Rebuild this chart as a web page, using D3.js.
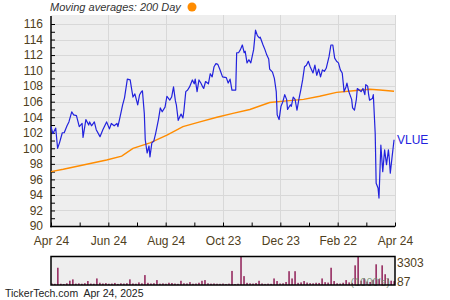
<!DOCTYPE html>
<html>
<head>
<meta charset="utf-8">
<script src="https://cdn.jsdelivr.net/npm/d3@7"></script>
<style>
	body { margin: 0; background: #fff; }
	svg { display: block; font-family: "Liberation Sans", Arial, sans-serif; }
</style>
</head>
<body>
<svg id="chart"></svg>
<script>
// days since Apr 24 2024, closing price
const priceDays = [0, 2, 5, 7, 9, 12, 14, 17, 19, 22, 24, 27, 30, 33, 34, 37, 40, 41, 43, 46,
	48, 52, 55, 59, 62, 64, 67, 70, 71, 73, 76, 78, 81, 84, 86, 87, 89, 92, 94, 96,
	97, 99, 100, 102, 104, 105, 107, 109, 111, 114, 116, 118, 121, 123, 126, 128, 130, 132, 133, 135,
	138, 140, 141, 143, 145, 147, 150, 152, 153, 155, 157, 159, 161, 162, 164, 167, 169, 171, 173, 175,
	177, 179, 182, 186, 188, 190, 192, 196, 197, 199, 201, 203, 205, 206, 208, 210, 212, 215, 217, 219,
	221, 222, 225, 227, 229, 231, 232, 235, 237, 239, 240, 242, 244, 246, 248, 250, 251, 254, 255, 257,
	259, 261, 263, 265, 267, 269, 271, 273, 275, 278, 280, 282, 284, 286, 288, 290, 292, 295, 297, 299,
	301, 303, 305, 307, 309, 311, 313, 314, 316, 319, 320, 322, 324, 325, 327, 329, 331, 333, 334, 336,
	337, 338, 341, 342, 344, 345, 347, 348, 350, 352, 354, 356, 358, 359, 360, 362, 364];
const priceVals = [102.8, 101.9, 102.6, 100.0, 100.7, 102.0, 102.0, 102.9, 103.4, 104.7, 104.3, 104.2, 102.8, 103.2, 101.4, 103.7, 103.0, 103.4, 102.9, 103.4,
	102.4, 101.5, 102.4, 103.4, 102.5, 103.2, 102.9, 103.2, 102.8, 103.9, 105.6, 106.5, 108.9, 108.8, 107.3, 106.6, 107.0, 105.6, 106.9, 107.3,
	107.4, 104.5, 101.1, 99.4, 100.3, 98.9, 100.7, 100.9, 101.9, 103.7, 105.2, 104.7, 105.3, 106.7, 106.2, 106.6, 107.9, 106.1, 105.6, 103.6,
	104.4, 103.9, 104.8, 107.3, 107.5, 107.9, 108.8, 108.3, 108.9, 107.3, 108.8, 108.4, 107.9, 107.7, 108.6, 108.3, 109.6, 109.2, 110.5, 110.9,
	110.8, 110.2, 109.2, 109.1, 108.4, 108.9, 107.5, 107.5, 112.3, 112.3, 112.7, 113.3, 112.3, 112.5, 111.0, 111.4, 111.0, 112.7, 115.2, 114.5,
	114.2, 114.3, 113.3, 112.7, 112.0, 111.5, 110.2, 109.8, 109.0, 107.3, 104.3, 103.7, 105.4, 106.0, 106.9, 106.3, 105.0, 105.6, 105.4, 106.6,
	106.3, 104.9, 106.3, 107.5, 108.8, 110.5, 110.7, 111.2, 110.5, 109.7, 110.7, 109.4, 110.2, 109.2, 110.1, 109.9, 110.3, 111.8, 113.3, 113.3,
	111.6, 111.2, 111.0, 110.1, 109.7, 107.3, 107.9, 108.4, 107.3, 106.3, 105.2, 104.9, 106.3, 107.7, 107.5, 107.3, 107.7, 106.9, 108.2, 108.0,
	106.9, 106.2, 106.4, 106.9, 101.9, 95.5, 94.9, 93.6, 100.4, 97.0, 99.8, 97.9, 99.8, 98.6, 96.8, 99.0, 101.1];

// 200 day moving average
const maDays = [0, 13, 59, 75, 87, 105, 123, 140, 158, 176, 193, 211, 232, 250, 268, 285, 303, 321, 338, 349, 364];
const maVals = [97.0, 97.3, 98.5, 99.0, 100.0, 100.7, 101.7, 102.8, 103.4, 104.0, 104.5, 105.0, 105.9, 106.1, 106.3, 106.7, 107.2, 107.4, 107.6, 107.5, 107.35];

// volume in 1000's
const volumeVals = [180, 140, 2000, 150, 120, 200, 500, 650, 160, 190, 150, 210, 460, 170, 150, 760, 260, 180, 220, 150,
	170, 240, 130, 200, 170, 210, 650, 180, 150, 300, 200, 1150, 250, 180, 210, 570, 160, 190, 150, 260,
	230, 170, 140, 490, 200, 180, 330, 150, 170, 260, 490, 570, 200, 160, 180, 150, 140, 170, 120, 160,
	1630, 110, 150, 3303, 1030, 250, 200, 170, 230, 490, 180, 130, 160, 140, 760, 460, 180, 200, 350, 1600,
	760, 1600, 250, 300, 460, 280, 220, 200, 260, 240, 760, 330, 280, 2000, 460, 200, 170, 260, 570, 300,
	250, 2280, 3303, 500, 760, 400, 350, 600, 2400, 700, 2280, 1250, 760, 500, 450];

const monthLabels = ["Apr 24", "Jun 24", "Aug 24", "Oct 23", "Dec 23", "Feb 22", "Apr 24"];
const priceLabels = [90, 92, 94, 96, 98, 100, 102, 104, 106, 108, 110, 112, 114, 116];
const volumeLabels = [87, 3303];
const symbol = "VLUE";

class TickerChart {
	constructor(selector, width = 450, height = 300) {
		this.width = width;
		this.height = height;
		this.svg = d3.select(selector).attr("width", width).attr("height", height);
		this.left = 51;
		this.right = 395;
		this.top = 15;
		this.bottom = 226.5;
		this.textColor = "#4f4020";
		this.x = d3.scaleLinear().domain([0, 365]).range([this.left, this.right]);
		this.y = d3.scaleLinear().domain([90, 116]).range([226, 24]);
	}

	drawPricePanel() {
		const svg = this.svg;
		svg.append("rect")
			.attr("x", this.left)
			.attr("y", this.top)
			.attr("width", this.right - this.left)
			.attr("height", this.bottom - this.top)
			.attr("fill", "#eeeeee");

		// horizontal grid
		svg.append("g")
			.selectAll("line")
			.data(priceLabels)
			.join("line")
			.attr("x1", this.left)
			.attr("x2", this.right)
			.attr("y1", (d) => Math.round(this.y(d)) + 0.5)
			.attr("y2", (d) => Math.round(this.y(d)) + 0.5)
			.attr("stroke", "#d8d8d8")
			.attr("stroke-width", 1);

		// vertical grid every two months
		const monthTicks = d3.range(13).map((i) => (i * 365) / 12);
		svg.append("g")
			.selectAll("line")
			.data(monthTicks.filter((d, i) => i % 2 === 0 && i > 0))
			.join("line")
			.attr("x1", (d) => Math.round(this.x(d)) + 0.5)
			.attr("x2", (d) => Math.round(this.x(d)) + 0.5)
			.attr("y1", this.top)
			.attr("y2", this.bottom)
			.attr("stroke", "#d8d8d8")
			.attr("stroke-width", 1);

		// y axis, ticks every 1, labels every 2
		const yAxis = d3.axisLeft(this.y)
			.tickValues(d3.range(90, 117))
			.tickSize(-4)
			.tickPadding(8)
			.tickFormat((d) => (d % 2 === 0 ? d : ""));
		const gy = svg.append("g")
			.attr("transform", `translate(${this.left},0)`)
			.call(yAxis);
		gy.select(".domain").remove();
		gy.selectAll("line").attr("stroke", "#000");
		gy.selectAll("text")
			.attr("fill", this.textColor)
			.attr("font-size", "12px")
			.attr("font-family", "Liberation Sans, Arial, sans-serif");

		// x axis, ticks every month, labels every two months
		const xAxis = d3.axisBottom(this.x)
			.tickValues(monthTicks)
			.tickSize(-4)
			.tickPadding(10)
			.tickFormat((d, i) => (i % 2 === 0 ? monthLabels[i / 2] : ""));
		const gx = svg.append("g")
			.attr("transform", `translate(0,${this.bottom})`)
			.call(xAxis);
		gx.select(".domain").remove();
		gx.selectAll("line").attr("stroke", "#000");
		gx.selectAll("text")
			.attr("fill", this.textColor)
			.attr("font-size", "12px")
			.attr("font-family", "Liberation Sans, Arial, sans-serif");

		// axis lines
		svg.append("line")
			.attr("x1", this.left).attr("x2", this.left)
			.attr("y1", this.top + 1).attr("y2", this.bottom + 0.75)
			.attr("stroke", "#000").attr("stroke-width", 1.5);
		svg.append("line")
			.attr("x1", this.left - 0.75).attr("x2", this.right)
			.attr("y1", this.bottom).attr("y2", this.bottom)
			.attr("stroke", "#000").attr("stroke-width", 1.5);

		const maLine = d3.line()
			.x((d, i) => this.x(maDays[i]))
			.y((d) => this.y(d));
		svg.append("path")
			.attr("d", maLine(maVals))
			.attr("fill", "none")
			.attr("stroke", "#ff8c00")
			.attr("stroke-width", 1.4);

		const priceLine = d3.line()
			.x((d, i) => this.x(priceDays[i]))
			.y((d) => this.y(d));
		svg.append("path")
			.attr("d", priceLine(priceVals))
			.attr("fill", "none")
			.attr("stroke", "#2222dd")
			.attr("stroke-width", 1.2)
			.attr("stroke-linejoin", "round");

		svg.append("text")
			.attr("x", this.right + 2)
			.attr("y", this.y(priceVals[priceVals.length - 1]) + 4)
			.text(symbol)
			.attr("fill", "#2222dd")
			.attr("font-size", "12px");

		// legend
		svg.append("text")
			.attr("x", 50)
			.attr("y", 11)
			.text("Moving averages: 200 Day")
			.attr("fill", "#333")
			.attr("font-size", "11px")
			.attr("font-style", "italic");
		svg.append("circle")
			.attr("cx", 192)
			.attr("cy", 7)
			.attr("r", 4.5)
			.attr("fill", "#ff8c00");
	}

	drawVolumePanel() {
		const svg = this.svg;
		const top = 256.5;
		const bottom = 285;
		const xv = d3.scaleBand()
			.domain(d3.range(volumeVals.length))
			.range([this.left, this.right])
			.paddingInner(0.45);
		const yv = d3.scaleLinear().domain([0, 3303]).range([bottom, top]);

		svg.append("rect")
			.attr("x", this.left)
			.attr("y", top)
			.attr("width", this.right - this.left)
			.attr("height", bottom - top)
			.attr("fill", "#eeeeee");

		svg.append("g")
			.selectAll("rect")
			.data(volumeVals)
			.join("rect")
			.attr("x", (d, i) => xv(i))
			.attr("y", (d) => yv(d))
			.attr("width", xv.bandwidth())
			.attr("height", (d) => bottom - yv(d))
			.attr("fill", "#993366");

		svg.append("text")
			.attr("x", 390)
			.attr("y", 286)
			.attr("text-anchor", "end")
			.text("(1000's)")
			.attr("fill", "#6f8f6f")
			.attr("fill-opacity", 0.85)
			.attr("font-size", "11px");

		svg.append("rect")
			.attr("x", this.left)
			.attr("y", top)
			.attr("width", this.right - this.left)
			.attr("height", bottom - top)
			.attr("fill", "none")
			.attr("stroke", "#000")
			.attr("stroke-width", 1.5);

		svg.append("g")
			.selectAll("text")
			.data(volumeLabels)
			.join("text")
			.attr("x", this.right + 2)
			.attr("y", (d, i) => (i === 0 ? bottom + 1 : top + 10.5))
			.text((d) => d)
			.attr("fill", this.textColor)
			.attr("font-size", "12px");
	}

	drawFooter() {
		this.svg.append("text")
			.attr("x", 5)
			.attr("y", 296.5)
			.attr("xml:space", "preserve")
			.style("white-space", "pre")
			.text("TickerTech.com  Apr 24, 2025")
			.attr("fill", "#222")
			.attr("font-size", "10.5px");
	}

	draw() {
		this.drawPricePanel();
		this.drawVolumePanel();
		this.drawFooter();
	}
}

const chart = new TickerChart("#chart");
chart.draw();
</script>
</body>
</html>
